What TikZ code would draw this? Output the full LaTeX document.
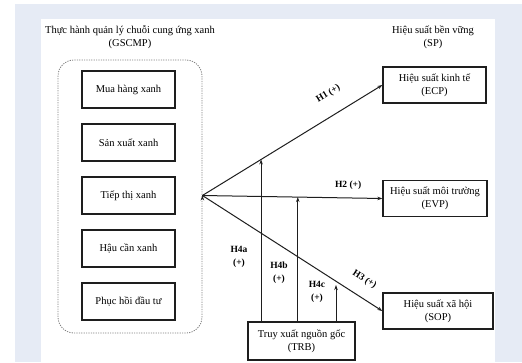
\documentclass[tikz,border=0pt]{standalone}
\usepackage{fontspec}
\setmainfont{Liberation Serif}
\usetikzlibrary{positioning,calc,arrows.meta}
\definecolor{panelblue}{HTML}{E6EBF5}
\definecolor{inkgray}{HTML}{1E1E1E}

\begin{document}
\begin{tikzpicture}[x=1pt,y=-1pt,node distance=53pt,>={Stealth[length=5pt,width=3.5pt]},
  item/.style={draw=inkgray,line width=1.3pt,minimum width=93pt,minimum height=37pt,inner sep=2pt,font=\fontsize{10.5}{13}\selectfont},
  perf/.style={item,align=center,minimum height=36pt},
  hyp/.style={align=center,inner sep=1pt,font=\bfseries\fontsize{9.5}{13}\selectfont},
  title/.style={align=center,font=\fontsize{10.5}{13}\selectfont}]

\useasboundingbox (0,0) rectangle (522,362);
\fill[panelblue] (15,4) rectangle (522,362);
\fill[white] (41,19) rectangle (495,362);

\node[title] (gtitle) at (130,37)  {Thực hành quản lý chuỗi cung ứng xanh\\(GSCMP)};
\node[title] (stitle) at (433,37)  {Hiệu suất bền vững\\(SP)};

\node[item] (mua)                       at (128.5,89.5) {Mua hàng xanh};
\node[item] (sanxuat) [below of=mua]                    {Sản xuất xanh};
\node[item] (tiepthi) [below of=sanxuat]                {Tiếp thị xanh};
\node[item] (haucan)  [below of=tiepthi]                {Hậu cần xanh};
\node[item] (phuchoi) [below of=haucan]                 {Phục hồi đầu tư};

\node[draw=gray,line width=0.8pt,dash pattern=on 1.2pt off 1.2pt,rounded corners=16pt,
      minimum width=144pt,minimum height=273pt] (gscmp) at (130,196.5) {};

\node[perf,minimum width=103pt] (ecp) at (434.5,85)  {Hiệu suất kinh tế\\(ECP)};
\node[perf,minimum width=104pt] (evp) at (435,198.5) {Hiệu suất môi trường\\(EVP)};
\node[perf,minimum width=110pt] (sop) at (438,311)   {Hiệu suất xã hội\\(SOP)};
\node[perf,minimum width=107pt,minimum height=38pt] (trb) at (301.5,341) {Truy xuất nguồn gốc\\(TRB)};

\coordinate (src) at (gscmp.east |- tiepthi.east);
\coordinate (h4a) at ($(src)!0.326!(ecp.west)$);
\coordinate (h4b) at ($(src)!0.53!(evp.west)$);
\coordinate (h4c) at (336,285);

\path[->,line width=1pt,draw=inkgray]
      (src) edge node[hyp,sloped,above=15pt,pos=0.76] {H1 (+)} (ecp.west)
      (src) edge node[hyp,above=7pt,pos=0.81]         {H2 (+)} (evp.west)
      (src) edge node[hyp,sloped,above=11pt,pos=0.85] {H3 (+)} (sop.west);

\draw[->,line width=1pt,inkgray] (trb.north -| h4a) -- (h4a);
\draw[->,line width=1pt,inkgray] (trb.north -| h4b) -- (h4b);
\draw[->,line width=1pt,inkgray] (trb.north -| h4c) -- (h4c);

\node[hyp] (l4a) at (239,257) {H4a\\(+)};
\node[hyp] (l4b) at (279,273) {H4b\\(+)};
\node[hyp] (l4c) at (317,292) {H4c\\(+)};
\end{tikzpicture}
\end{document}
